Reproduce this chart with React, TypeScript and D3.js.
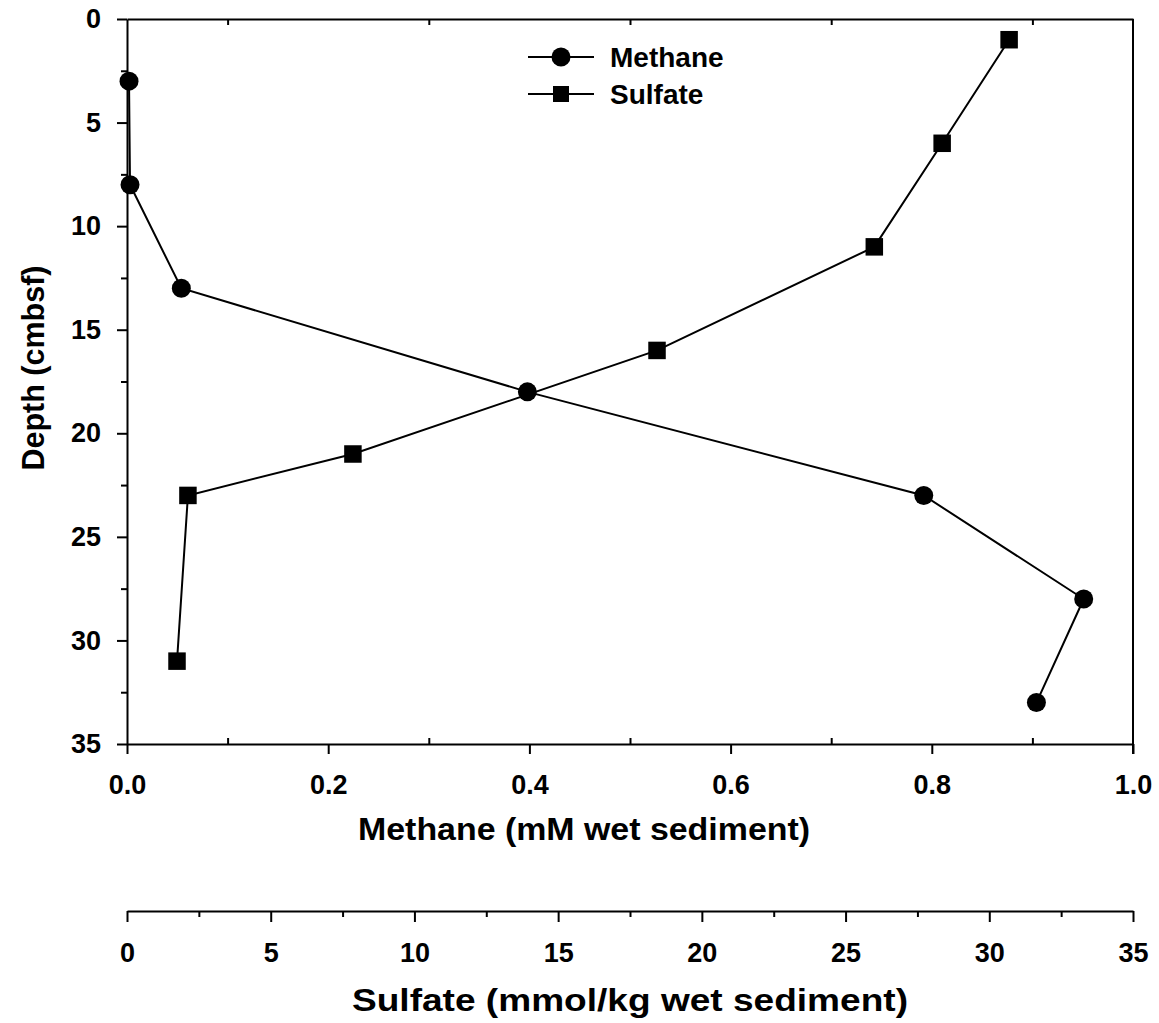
import React, { useEffect, useRef } from 'react';
import * as d3 from 'd3';

// depth profiles (cm below sea floor)
const methaneDepth = [3, 8, 13, 18, 23, 28, 33];
const methaneValues = [0.002, 0.003, 0.054, 0.398, 0.792, 0.951, 0.904];

const sulfateDepth = [1, 6, 11, 16, 21, 23, 31];
const sulfateValues = [30.69, 28.36, 26.0, 18.44, 7.86, 2.12, 1.74];

const depthTicks = [0, 5, 10, 15, 20, 25, 30, 35];
const depthMinor = [2.5, 7.5, 12.5, 17.5, 22.5, 27.5, 32.5];
const methaneTicks = [0, 0.2, 0.4, 0.6, 0.8, 1.0];
const methaneMinor = [0.1, 0.3, 0.5, 0.7, 0.9];
const sulfateTicks = [0, 5, 10, 15, 20, 25, 30, 35];
const sulfateMinor = [2.5, 7.5, 12.5, 17.5, 22.5, 27.5, 32.5];

const FONT = '"Liberation Sans", Arial, sans-serif';

const App = () => {
  const svgRef = useRef<SVGSVGElement>(null);

  useEffect(() => {
    const W = 1159;
    const H = 1023;
    const left = 127, right = 1133, top = 19, bottom = 744;
    const sulfateAxisY = 911;

    const svg = d3.select(svgRef.current).attr('width', W).attr('height', H);
    svg.selectAll('*').remove();

    const y = d3.scaleLinear().domain([0, 35]).range([top, bottom]);
    const xM = d3.scaleLinear().domain([0, 1]).range([left, right]);
    const xS = d3.scaleLinear().domain([0, 35]).range([left, right]);

    const styleAxis = (g: any, fs: number) => {
      g.selectAll('path, line').attr('stroke', '#000').attr('stroke-width', 2);
      g.selectAll('text')
        .attr('fill', '#000')
        .attr('font-family', FONT)
        .attr('font-weight', 'bold')
        .attr('font-size', fs);
      g.attr('font-family', null).attr('font-size', null);
    };

    // left axis
    const gl = svg.append('g').attr('transform', `translate(${left},0)`)
      .call(d3.axisLeft(y).tickValues(depthTicks).tickSize(10).tickSizeOuter(0).tickPadding(16).tickFormat(d3.format('d')));
    styleAxis(gl, 27);
    const glm = svg.append('g').attr('transform', `translate(${left},0)`)
      .call(d3.axisLeft(y).tickValues(depthMinor).tickSize(6).tickSizeOuter(0).tickFormat(() => ''));
    styleAxis(glm, 27);
    glm.select('.domain').remove();

    // bottom axis (methane)
    const gb = svg.append('g').attr('transform', `translate(0,${bottom})`)
      .call(d3.axisBottom(xM).tickValues(methaneTicks).tickSize(10).tickSizeOuter(0).tickPadding(21).tickFormat(d3.format('.1f')));
    styleAxis(gb, 27);
    const gbm = svg.append('g').attr('transform', `translate(0,${bottom})`)
      .call(d3.axisTop(xM).tickValues(methaneMinor).tickSize(6).tickSizeOuter(0).tickFormat(() => ''));
    styleAxis(gbm, 27);
    gbm.select('.domain').remove();

    // top frame with inward minor ticks
    const gt = svg.append('g').attr('transform', `translate(0,${top})`)
      .call(d3.axisBottom(xM).tickValues(methaneMinor).tickSize(6).tickSizeOuter(0).tickFormat(() => ''));
    styleAxis(gt, 27);

    // right frame
    svg.append('line')
      .attr('x1', right).attr('x2', right)
      .attr('y1', top).attr('y2', bottom + 10)
      .attr('stroke', '#000').attr('stroke-width', 2);

    // sulfate axis
    const gs = svg.append('g').attr('transform', `translate(0,${sulfateAxisY})`)
      .call(d3.axisBottom(xS).tickValues(sulfateTicks).tickSize(11).tickSizeOuter(0).tickPadding(21).tickFormat(d3.format('d')));
    styleAxis(gs, 27);
    const gsm = svg.append('g').attr('transform', `translate(0,${sulfateAxisY})`)
      .call(d3.axisBottom(xS).tickValues(sulfateMinor).tickSize(6).tickSizeOuter(0).tickFormat(() => ''));
    styleAxis(gsm, 27);
    gsm.select('.domain').remove();

    // axis titles
    const title = (txt: string, x: number, yy: number, len: number, rot = 0) =>
      svg.append('text')
        .attr('transform', `translate(${x},${yy}) rotate(${rot})`)
        .attr('text-anchor', 'middle')
        .attr('font-family', FONT)
        .attr('font-weight', 'bold')
        .attr('font-size', 31)
        .attr('fill', '#000')
        .attr('textLength', len)
        .attr('lengthAdjust', 'spacingAndGlyphs')
        .text(txt);

    title('Methane (mM wet sediment)', 584, 840, 452);
    title('Sulfate (mmol/kg wet sediment)', 630, 1011, 556);
    title('Depth (cmbsf)', 44, 368, 205, -90);

    // series
    const methane = methaneValues.map((v, i) => ({ x: xM(v), y: y(methaneDepth[i]) }));
    const sulfate = sulfateValues.map((v, i) => ({ x: xS(v), y: y(sulfateDepth[i]) }));
    const line = d3.line<{ x: number; y: number }>().x(d => d.x).y(d => d.y);

    svg.append('path').datum(methane).attr('d', line)
      .attr('fill', 'none').attr('stroke', '#000').attr('stroke-width', 2);
    svg.append('path').datum(sulfate).attr('d', line)
      .attr('fill', 'none').attr('stroke', '#000').attr('stroke-width', 2);

    svg.selectAll('.m').data(methane).enter().append('circle')
      .attr('cx', d => d.x).attr('cy', d => d.y).attr('r', 9.5).attr('fill', '#000');
    const sq = 17.5;
    svg.selectAll('.s').data(sulfate).enter().append('rect')
      .attr('x', d => d.x - sq / 2).attr('y', d => d.y - sq / 2)
      .attr('width', sq).attr('height', sq).attr('fill', '#000');

    // legend
    const legend = svg.append('g');
    const items = [
      { label: 'Methane', shape: 'circle', yy: 57 },
      { label: 'Sulfate', shape: 'square', yy: 94 },
    ];
    items.forEach(it => {
      legend.append('line').attr('x1', 528).attr('x2', 594).attr('y1', it.yy).attr('y2', it.yy)
        .attr('stroke', '#000').attr('stroke-width', 2);
      if (it.shape === 'circle') {
        legend.append('circle').attr('cx', 561).attr('cy', it.yy).attr('r', 9.5).attr('fill', '#000');
      } else {
        legend.append('rect').attr('x', 561 - 8).attr('y', it.yy - 8).attr('width', 16).attr('height', 16).attr('fill', '#000');
      }
      legend.append('text').attr('x', 610).attr('y', it.yy).attr('dy', '0.35em')
        .attr('font-family', FONT).attr('font-weight', 'bold').attr('font-size', 28)
        .attr('fill', '#000').text(it.label);
    });
  }, []);

  return (
    <svg ref={svgRef} style={{ position: 'absolute', left: 0, top: 0, background: '#fff' }}></svg>
  );
};

export default App;
